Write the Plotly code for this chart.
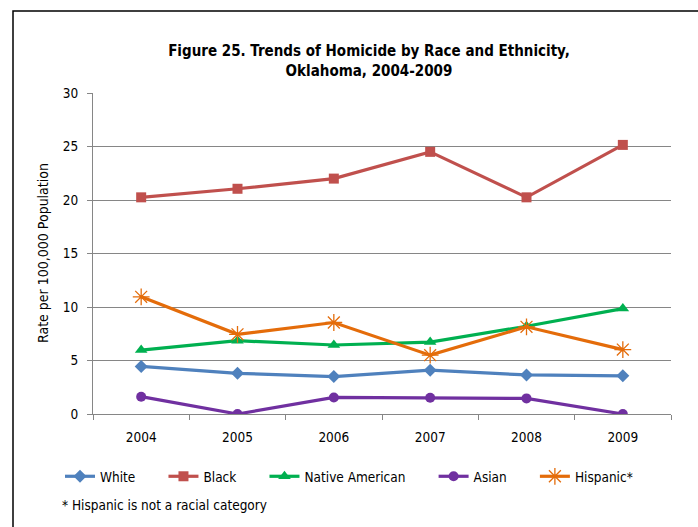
import plotly.graph_objects as go

years = ["2004", "2005", "2006", "2007", "2008", "2009"]
white = [4.45, 3.8, 3.5, 4.1, 3.65, 3.57]
black = [20.25, 21.05, 22.0, 24.5, 20.25, 25.15]
native_american = [5.97, 6.85, 6.45, 6.72, 8.2, 9.85]
asian = [1.62, 0.0, 1.55, 1.52, 1.46, 0.0]
hispanic = [10.95, 7.45, 8.55, 5.5, 8.15, 6.02]

FONT = "DejaVu Sans Condensed, sans-serif"
W, H = 698, 527
L, R, T, B = 93, 671, 93, 414

def px_x(p):
    return (p - L) / (R - L)

def px_y(p):
    return (B - p) / (B - T)

NB = "\u00a0"
series = [
    ("White" + NB * 6, white, "#4F81BD", dict(symbol="diamond", size=10)),
    ("Black" + NB * 6, black, "#C0504D", dict(symbol="square", size=10)),
    ("Native American" + NB * 6, native_american, "#00B050", dict(symbol="triangle-up", size=11)),
    ("Asian" + NB * 6, asian, "#7030A0", dict(symbol="circle", size=10)),
    ("Hispanic*", hispanic, "#E46C0A", dict(symbol="asterisk-open", size=14,
                                             line=dict(color="#F0A060", width=1.3))),
]

fig = go.Figure()
for name, vals, color, mk in series:
    marker = dict(color=color, **mk)
    if "line" not in marker:
        marker["line"] = dict(width=0)
    fig.add_trace(go.Scatter(x=years, y=vals, name=name, mode="lines+markers",
                             line=dict(color=color, width=3.2), marker=marker))

fig.update_layout(
    width=W, height=H,
    margin=dict(l=L, r=W - R, t=T, b=H - B, pad=0, autoexpand=False),
    paper_bgcolor="white", plot_bgcolor="white",
    font=dict(family=FONT, size=13.5, color="#000000"),
    title=dict(text="<b>Figure 25. Trends of Homicide by Race and Ethnicity,<br>Oklahoma, 2004-2009</b>",
               x=369 / W, xanchor="center", y=1 - 56 / H, yanchor="top",
               font=dict(family=FONT, size=15, color="#000000")),
    showlegend=True,
    legend=dict(orientation="h", xref="container", yref="container",
                x=60 / W, xanchor="left", y=1 - 461 / H, yanchor="top",
                font=dict(family=FONT, size=13.5), itemwidth=30, bgcolor="rgba(0,0,0,0)",
                traceorder="normal"),
    xaxis=dict(type="category", range=[-0.5, 5.5], showgrid=False, showline=True,
               linecolor="#868686", linewidth=1, ticks="outside", tickson="boundaries",
               ticklen=5, tickcolor="#868686", tickfont=dict(family=FONT, size=13.5),
               ticklabelstandoff=11, fixedrange=True, automargin=False),
    yaxis=dict(range=[0, 30], dtick=5, showgrid=True, gridcolor="#868686", gridwidth=1,
               showline=True, linecolor="#868686", linewidth=1, ticks="outside",
               ticklen=5, tickcolor="#868686", tickfont=dict(family=FONT, size=13.5),
               ticklabelstandoff=6, zeroline=False, fixedrange=True, automargin=False),
    annotations=[
        dict(text="Rate per 100,000 Population", textangle=-90, xref="paper", yref="paper",
             x=px_x(43), y=px_y(253), xanchor="center", yanchor="middle", showarrow=False,
             font=dict(family=FONT, size=14)),
        dict(text="* Hispanic is not a racial category", xref="paper", yref="paper",
             x=px_x(60), y=px_y(505), xanchor="left", yanchor="middle", showarrow=False,
             font=dict(family=FONT, size=13.5)),
    ],
    shapes=[
        dict(type="rect", xref="paper", yref="paper", x0=px_x(13), x1=px_x(720),
             y0=px_y(560), y1=px_y(11), line=dict(color="#000000", width=1.5),
             fillcolor="rgba(0,0,0,0)", layer="below"),
    ],
)

fig.write_html("out.html", config={"displayModeBar": False},
               post_script="document.body.style.margin='0px';document.body.style.padding='0px';")
